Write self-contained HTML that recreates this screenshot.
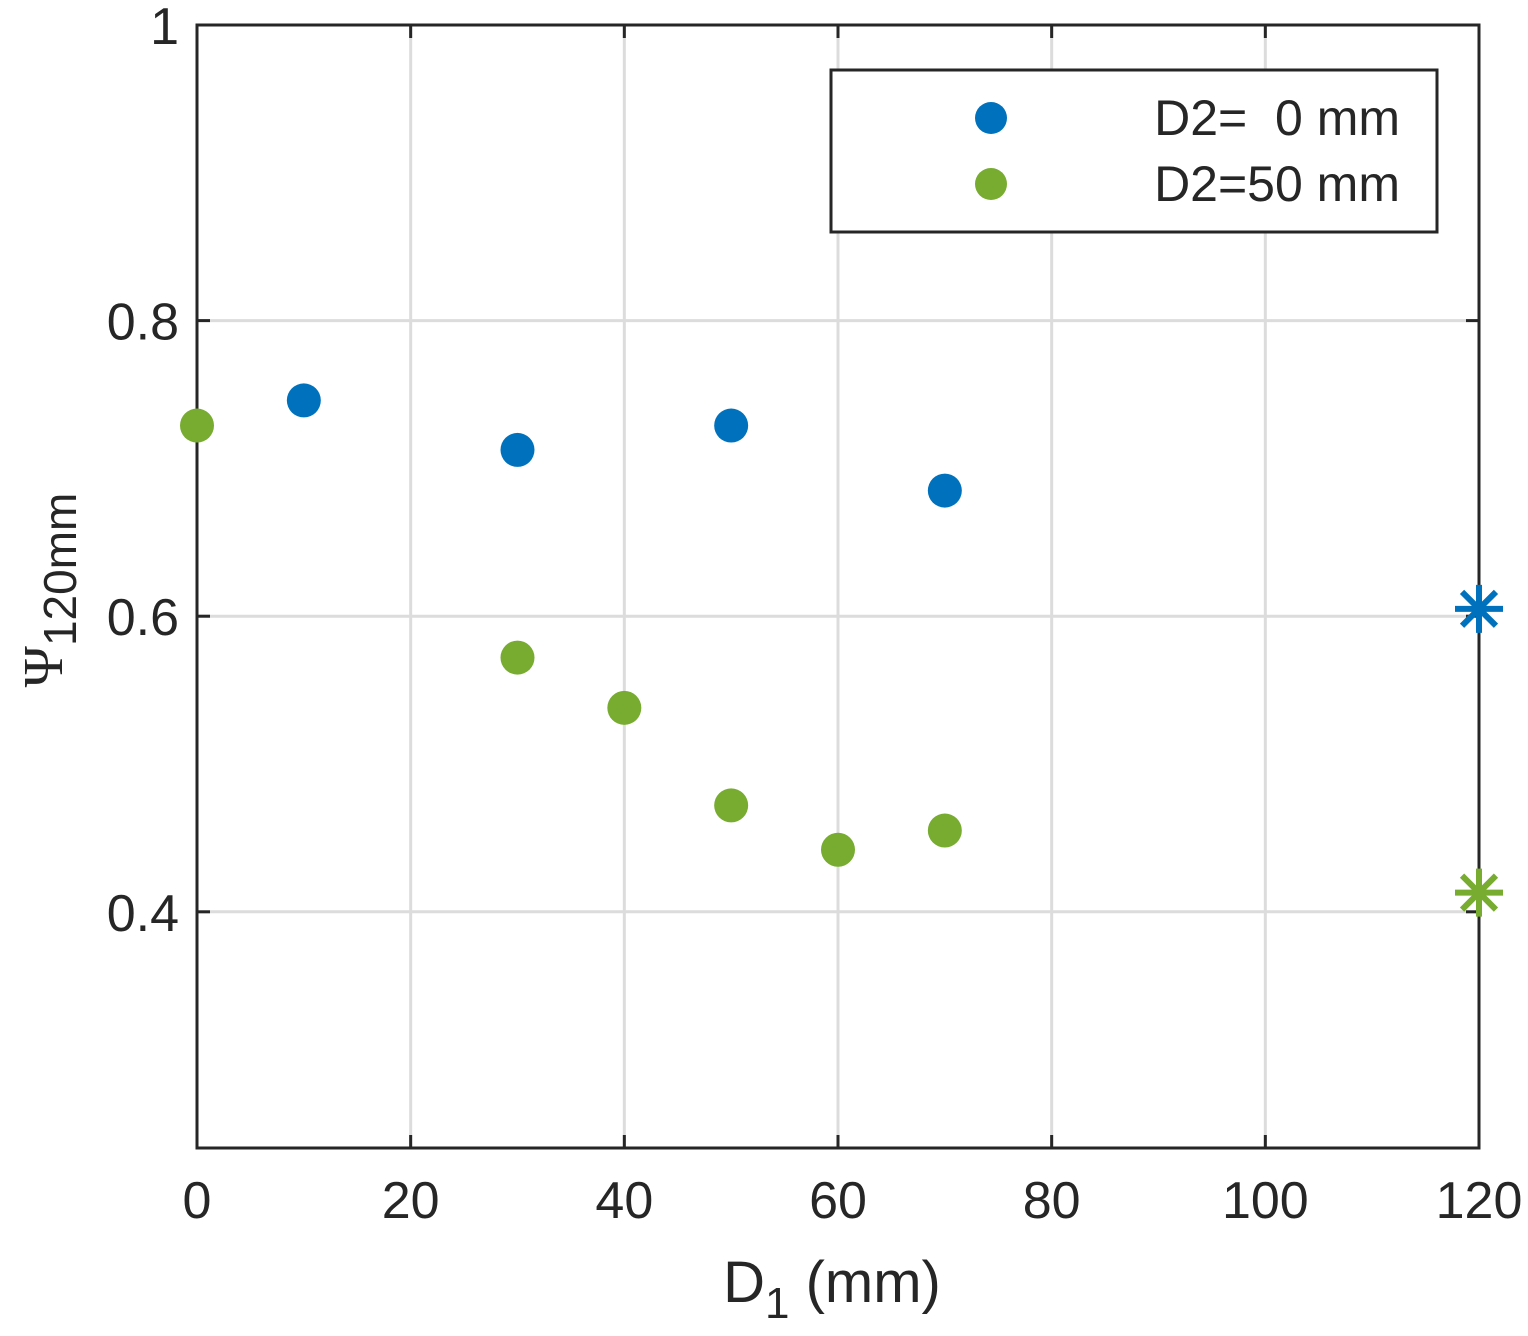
<!DOCTYPE html>
<html><head><meta charset="utf-8"><style>
html,body{margin:0;padding:0;background:#fff;}
svg{display:block;font-family:"Liberation Sans",Arial,sans-serif;}
</style></head><body>
<svg id="chart" width="1528" height="1336">
<g id="grid"></g>
<g id="axes"></g>
<g id="marks"></g>
<g id="legend">
<rect x="831" y="70" width="606" height="162" fill="#fff" stroke="#262626" stroke-width="3"/>
<circle cx="991" cy="118" r="16" fill="#0072BD"/>
<text x="1400" y="135" font-size="50" text-anchor="end" fill="#262626" xml:space="preserve">D2=  0 mm</text>
<circle cx="991" cy="184" r="16" fill="#77AC30"/>
<text x="1400" y="201" font-size="50" text-anchor="end" fill="#262626">D2=50 mm</text>
</g>
<text x="832" y="1302" font-size="58" text-anchor="middle" fill="#262626">D<tspan font-size="44" dy="16">1</tspan><tspan dy="-16"> (mm)</tspan></text>
<text transform="translate(62,590) rotate(-90)" font-size="56" text-anchor="middle" fill="#262626"><tspan font-family="Liberation Serif,serif">Ψ</tspan><tspan font-size="46" dy="14">120mm</tspan></text>
</svg>
<script>
const xTicks=[0,20,40,60,80,100,120];
const yTicks=[0.4,0.6,0.8,1];
const yTickLabels=["0.4","0.6","0.8","1"];
const blueX=[10,30,50,70];
const blueY=[0.746,0.7125,0.729,0.685];
const greenX=[0,30,40,50,60,70];
const greenY=[0.729,0.572,0.538,0.472,0.442,0.455];
const starX=[120,120];
const starY=[0.605,0.413];
const starColors=["#0072BD","#77AC30"];

const L=197,R=1479,T=25,B=1148,xMin=0,xMax=120,yMin=0.2402,yMax=1;
const sx=v=>L+(v-xMin)/(xMax-xMin)*(R-L);
const sy=v=>B-(v-yMin)/(yMax-yMin)*(B-T);
const NS="http://www.w3.org/2000/svg";
function mk(tag,attrs,parent){const e=document.createElementNS(NS,tag);for(const k in attrs)e.setAttribute(k,attrs[k]);parent.appendChild(e);return e;}
const grid=document.getElementById('grid'),axes=document.getElementById('axes'),marks=document.getElementById('marks');
xTicks.forEach(v=>{
 const l=mk('line',{x1:sx(v),x2:sx(v),y1:T,y2:B,stroke:'#dcdcdc','stroke-width':3},grid);
 
 
 const t=mk('text',{x:sx(v),y:B+70,'font-size':52,'text-anchor':'middle',fill:'#262626'},axes);
 t.textContent=v;
 
 
 mk('line',{x1:sx(v),x2:sx(v),y1:B,y2:B-13,stroke:'#262626','stroke-width':3},axes);
 mk('line',{x1:sx(v),x2:sx(v),y1:T,y2:T+13,stroke:'#262626','stroke-width':3},axes);
});
yTicks.forEach((v,i)=>{
 const l=mk('line',{x1:L,x2:R,y1:sy(v),y2:sy(v),stroke:'#dcdcdc','stroke-width':3},grid);
 
 
 const t=mk('text',{x:L-18,y:sy(v)+19,'font-size':52,'text-anchor':'end',fill:'#262626'},axes);
 t.textContent=yTickLabels[i];
 
 
 mk('line',{x1:L,x2:L+13,y1:sy(v),y2:sy(v),stroke:'#262626','stroke-width':3},axes);
 mk('line',{x1:R,x2:R-13,y1:sy(v),y2:sy(v),stroke:'#262626','stroke-width':3},axes);
});
const box=mk('rect',{x:L,y:T,width:R-L,height:B-T,fill:'none',stroke:'#262626','stroke-width':3},axes);


function dots(xs,ys,color,name){xs.forEach((x,i)=>{
 const c=mk('circle',{cx:sx(x),cy:sy(ys[i]),r:17,fill:color},marks);
 
 
});}
dots(blueX,blueY,'#0072BD','point-d2-0');
dots(greenX,greenY,'#77AC30','point-d2-50');
starX.forEach((x,i)=>{
 const g=mk('g',{stroke:starColors[i],'stroke-width':6},marks);
 
 
 const cx=sx(x),cy=sy(starY[i]),r=24;
 [0,45,90,135].forEach(a=>{const rad=a*Math.PI/180;mk('line',{x1:cx-r*Math.cos(rad),y1:cy-r*Math.sin(rad),x2:cx+r*Math.cos(rad),y2:cy+r*Math.sin(rad)},g);});
});
</script>
</body></html>
